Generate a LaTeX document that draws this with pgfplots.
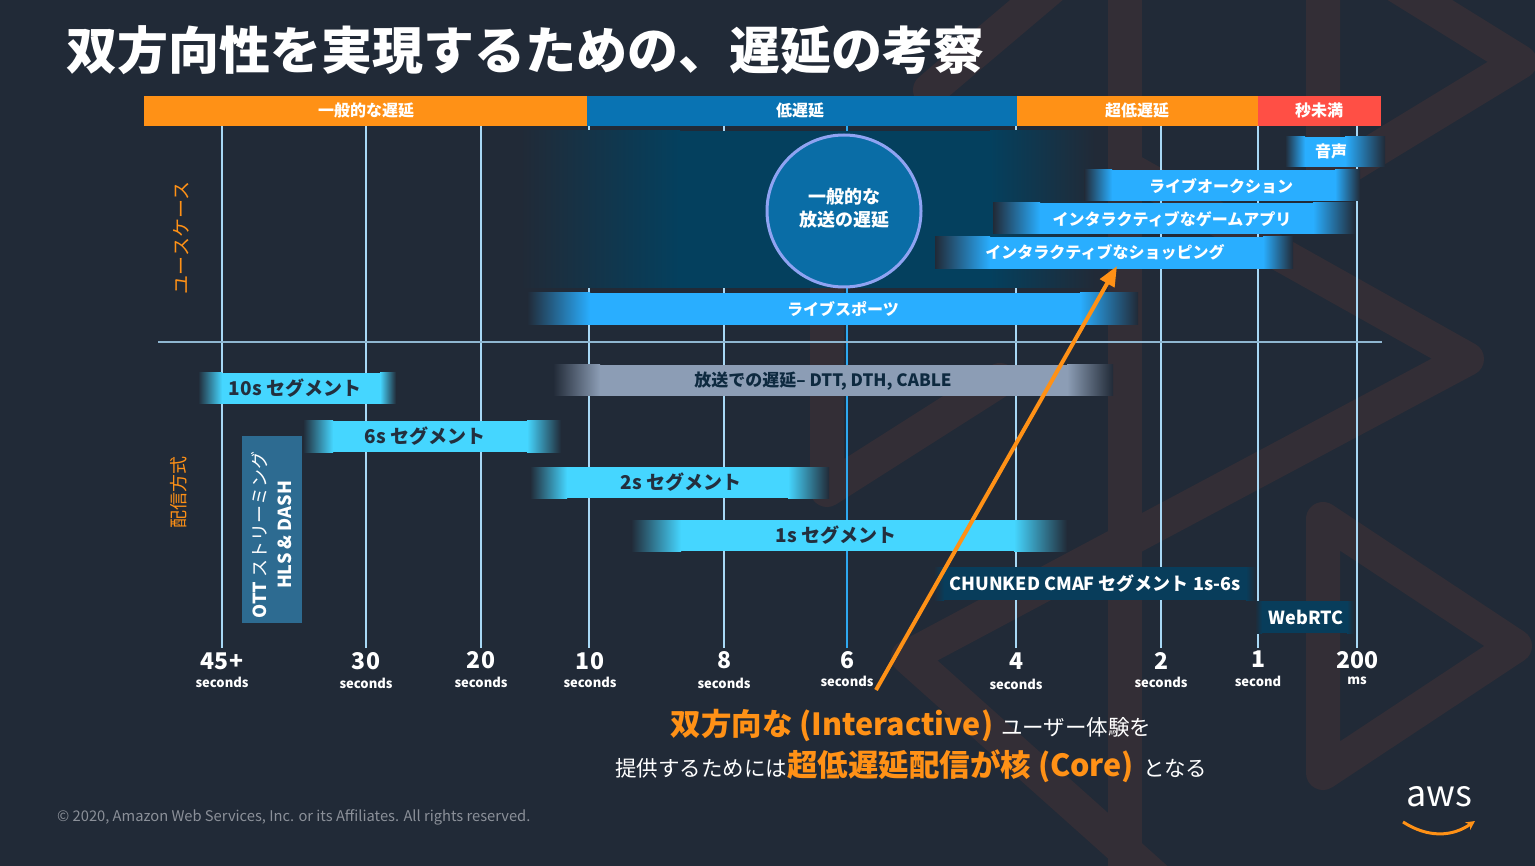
\documentclass[border=0pt]{standalone}
\usepackage{pgfplots}
\pgfplotsset{compat=1.18}
\usepackage{fontspec}
\setmainfont{Noto Sans CJK JP}
\usetikzlibrary{arrows.meta}

\definecolor{bgc}{HTML}{212A37}
\definecolor{wm}{HTML}{332E36}
\definecolor{orng}{HTML}{FF9116}
\definecolor{bandblue}{HTML}{0973B3}
\definecolor{bandred}{HTML}{FF4F45}
\definecolor{ucb}{HTML}{29AEFF}
\definecolor{cyb}{HTML}{45D6FF}
\definecolor{gryb}{HTML}{8C9DB5}
\definecolor{grytxt}{HTML}{0E2A40}
\definecolor{darkreg}{HTML}{04405E}
\definecolor{circfill}{HTML}{0A6DA6}
\definecolor{circline}{HTML}{8FA3F2}
\definecolor{ottb}{HTML}{2D6B91}
\definecolor{chb}{HTML}{083D5B}
\definecolor{vline}{HTML}{A8D8F5}
\definecolor{sepl}{HTML}{8FB6D0}
\definecolor{vmid}{HTML}{2EA8F0}
\definecolor{ink}{HTML}{232F3E}
\definecolor{cpy}{HTML}{8B9099}

% bar with faded ends: x0 x1 x2 x3 ytop ybot colour
\newcommand\fbar[7]{%
  \addplot[draw=none, fill=#7] coordinates {(#2-0.5,#5) (#3+0.5,#5) (#3+0.5,#6) (#2-0.5,#6)};
  \addplot[draw=none, left color=bgc, right color=#7] coordinates {(#1,#5) (#2,#5) (#2,#6) (#1,#6)};
  \addplot[draw=none, left color=#7, right color=bgc] coordinates {(#3,#5) (#4,#5) (#4,#6) (#3,#6)};
}

\tikzset{
  lbl/.style={font=\fontsize{16}{18}\selectfont\bfseries, text=white, inner sep=0pt},
  seg/.style={font=\fontsize{19}{21}\selectfont\bfseries, text=ink, inner sep=0pt},
  num/.style={font=\fontsize{23}{25}\selectfont\bfseries, text=white, inner sep=0pt},
  sec/.style={font=\fontsize{13}{15}\selectfont\bfseries, text=white, inner sep=0pt},
  wmark/.style={wm, line width=34pt, line join=round, line cap=round},
}

\begin{document}
\begin{tikzpicture}
\begin{axis}[
  width=1535pt, height=866pt, scale only axis,
  xmin=0, xmax=1535, ymin=0, ymax=866, y dir=reverse,
  hide axis, clip=false,
]
% background
\addplot[draw=none, fill=bgc] coordinates {(0,0) (1535,0) (1535,866) (0,866)};

% faint background pattern
\begin{scope}
\clip (0,0) rectangle (1535,866);
\addplot[wmark] coordinates {(1125,-20) (1125,886)};
\addplot[wmark] coordinates {(1323,-60) (1323,182) (1520,62) (1323,-60)};
\addplot[wmark] coordinates {(1323,519) (1323,773) (1515,646) (1323,519)};
\addplot[wmark] coordinates {(1130,170) (1467,359) (908,657) (1180,900)};
\addplot[wmark] coordinates {(827,240) (827,490) (1000,380)};
\addplot[wmark] coordinates {(930,90) (1060,-20)};
\end{scope}

% latency bands
\addplot[draw=none, fill=orng] coordinates {(144,96) (587,96) (587,126) (144,126)};
\addplot[draw=none, fill=bandblue] coordinates {(587,96) (1017,96) (1017,126) (587,126)};
\addplot[draw=none, fill=orng] coordinates {(1017,96) (1258,96) (1258,126) (1017,126)};
\addplot[draw=none, fill=bandred] coordinates {(1258,96) (1381,96) (1381,126) (1258,126)};

% vertical grid lines
\addplot[vline, line width=2pt] coordinates {(222,126) (222,648)};
\addplot[vline, line width=2pt] coordinates {(366,126) (366,648)};
\addplot[vline, line width=2pt] coordinates {(481,126) (481,648)};
\addplot[vline, line width=2pt] coordinates {(589,126) (589,648)};
\addplot[vline, line width=2pt] coordinates {(724,126) (724,648)};
\addplot[vmid, line width=2.5pt] coordinates {(847,126) (847,648)};
\addplot[vline, line width=2pt] coordinates {(1016,126) (1016,648)};
\addplot[vline, line width=2pt] coordinates {(1161,126) (1161,648)};
\addplot[vline, line width=2pt] coordinates {(1258,126) (1258,648)};
\addplot[vline, line width=2pt] coordinates {(1357,126) (1357,648)};

% separator
\addplot[sepl, line width=1.5pt] coordinates {(158,342) (1382,342)};

% region of usual broadcast latency
\fbar{520}{680}{990}{1095}{131}{288}{darkreg}

% use cases
\fbar{1285}{1305}{1345}{1385}{137}{167}{ucb}
\fbar{1084}{1112}{1335}{1360}{170}{201}{ucb}
\fbar{993}{1040}{1313}{1355}{203}{234}{ucb}
\fbar{935}{990}{1263}{1293}{237}{269}{ucb}
\fbar{527}{590}{1080}{1138}{293}{325}{ucb}

% delivery methods
\fbar{553}{600}{1067}{1113}{365}{396}{gryb}
\fbar{198}{222}{380}{396}{373}{404}{cyb}
\fbar{303}{333}{527}{561}{421}{452}{cyb}
\fbar{530}{567}{788}{829}{467}{498}{cyb}
\fbar{631}{681}{1014}{1067}{520}{551}{cyb}
\fbar{934}{944}{1246}{1256}{567}{600}{chb}
\fbar{1255}{1262}{1347}{1354}{601}{633}{chb}
\addplot[draw=none, fill=ottb] coordinates {(242,436) (302,436) (302,623) (242,623)};

% circle
\draw[circline, line width=3pt, fill=circfill] (844,211) ellipse [x radius=77, y radius=76];
\node[font=\fontsize{18}{23}\selectfont\bfseries, text=white, align=center, inner sep=0pt] at (844,208) {一般的な\\放送の遅延};

% title
\node[anchor=west, inner sep=0pt, text=white, font=\fontsize{51}{56}\selectfont\bfseries] at (66,50) {双方向性を実現するための、遅延の考察};

% band labels
\node[lbl] at (366,110) {一般的な遅延};
\node[lbl] at (800,110) {低遅延};
\node[lbl] at (1137,110) {超低遅延};
\node[lbl] at (1319,110) {秒未満};

% side labels
\node[rotate=90, text=orng, inner sep=0pt, font=\fontsize{19}{21}\selectfont] at (181,238) {ユースケース};
\node[rotate=90, text=orng, inner sep=0pt, font=\fontsize{18}{20}\selectfont] at (179,492) {配信方式};

% bar labels
\node[lbl] at (1331,151) {音声};
\node[lbl] at (1221,186) {ライブオークション};
\node[lbl] at (1172,219) {インタラクティブなゲームアプリ};
\node[lbl] at (1105,252) {インタラクティブなショッピング};
\node[lbl] at (843,309) {ライブスポーツ};
\node[seg, text=grytxt, font=\fontsize{17}{19}\selectfont\bfseries] at (823,381) {放送での遅延– DTT, DTH, CABLE};
\node[seg] at (295,388) {10s セグメント};
\node[seg] at (425,436) {6s セグメント};
\node[seg] at (681,482) {2s セグメント};
\node[seg] at (836,535) {1s セグメント};
\node[lbl, font=\fontsize{18}{20}\selectfont\bfseries] at (1095,583) {CHUNKED CMAF セグメント 1s-6s};
\node[lbl, font=\fontsize{18}{20}\selectfont\bfseries] at (1306,617) {WebRTC};
\node[rotate=90, text=white, inner sep=0pt, align=center, font=\fontsize{18}{25}\selectfont] at (272,535)
  {\textbf{OTT} ストリーミング\\\textbf{HLS \& DASH}};

% x labels
\node[num] at (222,661) {45+};  \node[sec] at (222,682) {seconds};
\node[num] at (366,661) {30};   \node[sec] at (366,683) {seconds};
\node[num] at (481,660) {20};   \node[sec] at (481,682) {seconds};
\node[num] at (590,661) {10};   \node[sec] at (590,682) {seconds};
\node[num] at (724,660) {8};    \node[sec] at (724,683) {seconds};
\node[num] at (847,660) {6};    \node[sec] at (847,681) {seconds};
\node[num] at (1016,661) {4};   \node[sec] at (1016,684) {seconds};
\node[num] at (1161,661) {2};   \node[sec] at (1161,682) {seconds};
\node[num] at (1258,659) {1};   \node[sec] at (1258,681) {second};
\node[num] at (1357,660) {200}; \node[sec] at (1357,681) {ms};

% arrow
\draw[orng, line width=4pt, -{Triangle[length=20pt, width=16pt]}] (876,690) -- (1117,266);

% message
\node[anchor=base, inner sep=0pt, text=white] at (911,735)
  {{\color{orng}\fontsize{30.5}{32}\selectfont\bfseries 双方向な (Interactive)}\hspace{8pt}{\fontsize{21.5}{23}\selectfont ユーザー体験を}};
\node[anchor=base, inner sep=0pt, text=white] at (911,776)
  {{\fontsize{21.5}{23}\selectfont 提供するためには}{\color{orng}\fontsize{30.5}{32}\selectfont\bfseries 超低遅延配信が核 (Core)}\hspace{9pt}{\fontsize{21.5}{23}\selectfont となる}};

% footer
\node[anchor=west, inner sep=0pt, text=cpy, font=\fontsize{14.7}{16}\selectfont] at (57,817) {© 2020, Amazon Web Services, Inc. or its Affiliates. All rights reserved.};
\node[inner sep=0pt, text=white, font=\fontsize{36}{38}\selectfont] at (1439,797) {aws};
\draw[orng, line width=3pt, -{Stealth[length=9pt, width=9pt]}] (1403,822) .. controls (1428,838) and (1452,837) .. (1475,821);
\end{axis}
\end{tikzpicture}
\end{document}
